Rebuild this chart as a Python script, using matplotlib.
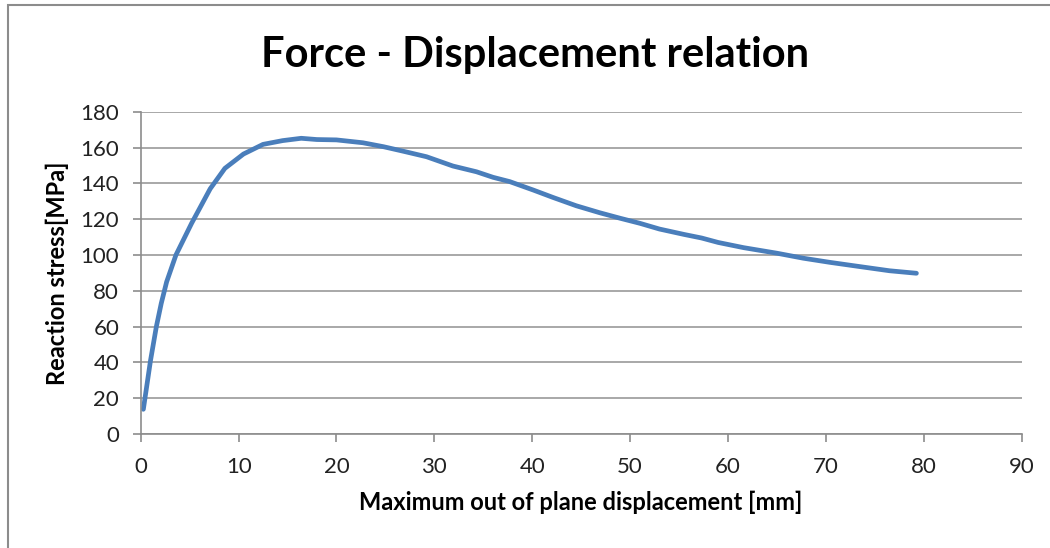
import matplotlib
matplotlib.use("Agg")
import matplotlib.pyplot as plt
from matplotlib.patches import Rectangle

# values
displacement = [0.27, 1.0, 1.6, 2.1, 2.65, 3.6, 5.2, 7.1, 8.6, 10.5, 12.5, 14.5,
                16.4, 18.0, 20.0, 22.7, 24.8, 26.8, 29.2, 31.9, 34.3, 36.0, 37.7,
                40.1, 42.1, 44.5, 46.9, 49.0, 51.0, 53.0, 55.5, 57.3, 59.0, 61.6,
                65.0, 67.7, 70.4, 73.5, 76.5, 79.25]
stress = [13.8, 41, 60, 73, 85, 100, 117.7, 137, 148.4, 156.4, 161.8, 163.9,
          165.2, 164.5, 164.3, 162.7, 160.5, 158, 154.9, 149.7, 146.5, 143.4, 141,
          136.3, 132.2, 127.5, 123.6, 120.5, 117.7, 114.5, 111.5, 109.5, 107, 104.1,
          101, 98.2, 95.9, 93.5, 91.2, 89.8]
x_ticks = list(range(0, 91, 10))
y_ticks = list(range(0, 181, 20))

plt.rcParams['font.family'] = ['Lato', 'DejaVu Sans']

fig = plt.figure(figsize=(10.5, 5.48), dpi=100)
ax = fig.add_axes([0.134, 0.208, 0.839, 0.588])

ax.plot(displacement, stress, color='#4A7EBB', linewidth=3.4,
        solid_capstyle='round', solid_joinstyle='round')

ax.set_xlim(0, 90)
ax.set_ylim(0, 180)
ax.set_xticks(x_ticks)
ax.set_yticks(y_ticks)
ax.yaxis.grid(True, color='#9a9a9a', linewidth=1.2)
ax.set_axisbelow(True)
for s in ['top', 'right']:
    ax.spines[s].set_visible(False)
for s in ['left', 'bottom']:
    ax.spines[s].set_color('#8c8c8c')
    ax.spines[s].set_linewidth(1.2)
ax.tick_params(axis='both', colors='#8c8c8c', length=5.5, width=1.2,
               labelcolor='#222222', labelsize=16)
ax.tick_params(axis='x', pad=11)
ax.tick_params(axis='y', pad=10)

ax.set_xlabel('Maximum out of plane displacement [mm]', fontsize=17,
              fontweight='bold', labelpad=10)
ax.set_ylabel('Reaction stress[MPa]', fontsize=17, fontweight='bold', labelpad=8)

fig.text(0.51, 0.9, 'Force - Displacement relation', fontsize=30, fontweight='bold',
         ha='center', va='center')

# chart border
fig.add_artist(Rectangle((8 / 1050, -0.05), 1.2, 1 - 5 / 548 + 0.05,
                         transform=fig.transFigure, fill=False,
                         edgecolor='#8c8c8c', linewidth=1.5, clip_on=False))

fig.savefig('out.png', dpi=100)
